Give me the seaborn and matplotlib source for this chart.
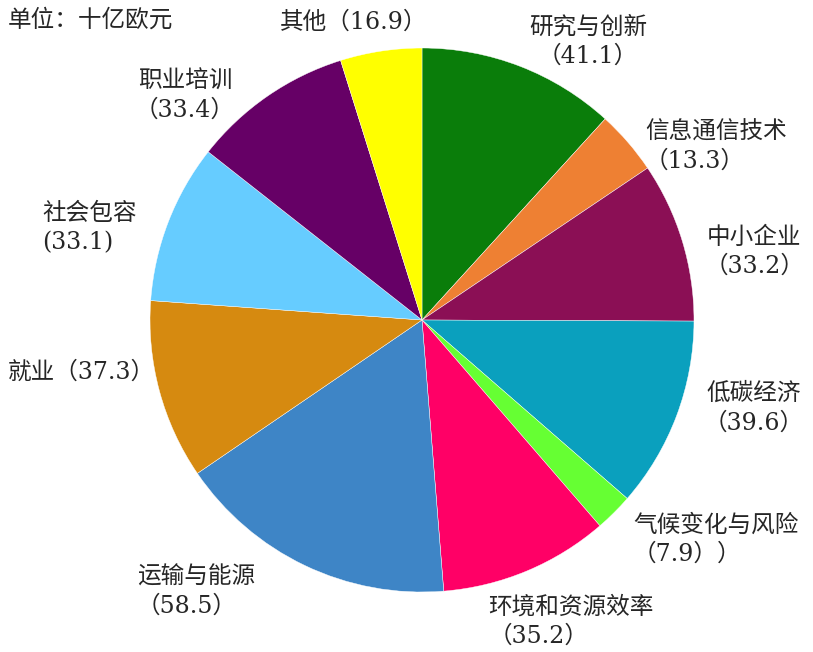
import matplotlib
matplotlib.use('Agg')
import matplotlib.pyplot as plt
import seaborn as sns

# ------------------------------
# data (十亿欧元)
# ------------------------------
categories = ['研究与创新', '信息通信技术', '中小企业', '低碳经济', '气候变化与风险',
              '环境和资源效率', '运输与能源', '就业', '社会包容', '职业培训', '其他']
values = [41.1, 13.3, 33.2, 39.6, 7.9, 35.2, 58.5, 37.3, 33.1, 33.4, 16.9]
label_texts = ['研究与创新\n（41.1）', '信息通信技术\n（13.3）', '中小企业\n（33.2）',
               '低碳经济\n（39.6）', '气候变化与风险\n（7.9））', '环境和资源效率\n（35.2）',
               '运输与能源\n（58.5）', '就业（37.3）', '社会包容\n(33.1)',
               '职业培训\n（33.4）', '其他（16.9）']
hex_colors = ['#0A7D0A', '#EE8033', '#8B0F55', '#0AA0BE', '#66FF33', '#FF0066',
              '#3E85C6', '#D68A10', '#66CCFF', '#660066', '#FFFF00']

# label placement (data units, pie radius = 1)
label_pos = [(0.61, 1.022, 'center'), (0.82, 0.636, 'left'), (1.221, 0.25, 'center'),
             (1.221, -0.324, 'center'), (0.776, -0.809, 'left'), (0.243, -1.11, 'left'),
             (-1.048, -1.0, 'left'), (-1.522, -0.191, 'left'), (-1.397, 0.338, 'left'),
             (-0.871, 0.824, 'center'), (-0.25, 1.096, 'center')]

sns.set_style('white')
plt.rcParams['font.family'] = ['DejaVu Serif', 'Noto Sans CJK SC', 'DejaVu Sans']

palette = sns.color_palette(hex_colors)

fig = plt.figure(figsize=(8.13, 6.52), dpi=100)
ax = fig.add_axes([0, 0, 1, 1])
ax.pie(values, colors=palette, startangle=90, counterclock=False, radius=1,
       wedgeprops=dict(edgecolor='white', linewidth=0.3))

for txt, (x, y, ha) in zip(label_texts, label_pos):
    ax.text(x, y, txt, ha=ha, va='center', multialignment=ha, fontsize=17,
            color='#262626', linespacing=1.35)

ax.text(-1.522, 1.103, '单位：十亿欧元', ha='left', va='center', fontsize=17, color='#262626')

ax.set_xlim(-422 / 272, (813 - 422) / 272)
ax.set_ylim(-(652 - 320) / 272, 320 / 272)
ax.set_aspect('equal')
ax.axis('off')

fig.savefig('out.png', dpi=100)
plt.close(fig)
